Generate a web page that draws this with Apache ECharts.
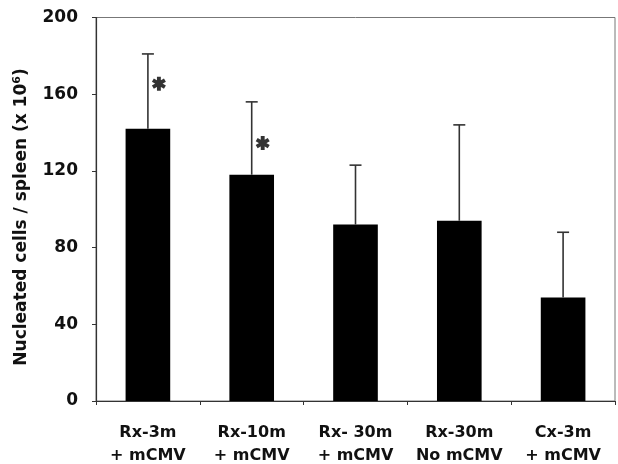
<!DOCTYPE html>
<html><head><meta charset="utf-8">
<script src="https://cdn.jsdelivr.net/npm/echarts@6/dist/echarts.min.js"></script>
<style>html,body{margin:0;padding:0;background:#fff}#c{width:618px;height:464px}</style>
</head><body><div id="c"></div>
<script>
const categories = ['Rx-3m\n+ mCMV', 'Rx-10m\n+ mCMV', 'Rx- 30m\n+ mCMV', 'Rx-30m\nNo mCMV', 'Cx-3m\n+ mCMV'];
const means = [142, 118, 92, 94, 54];
const errorTops = [181, 156, 123, 144, 88];
const starValues = [165.5, 134.5, null, null, null];
const yTicks = [0, 40, 80, 120, 160, 200];
const yTitle = 'Nucleated cells / spleen (x 10{sup|6})';

const FONT = '"DejaVu Sans", sans-serif';
const STAR = 'path://M36 0L64 0L64 100L36 100Z' +
  'M13.7 87.12L-0.3 62.88L86.3 12.88L100.3 37.12Z' +
  'M100.3 62.88L86.3 87.12L-0.3 37.12L13.7 12.88Z';
const chart = echarts.init(document.getElementById('c'));
chart.setOption({
  animation: false,
  backgroundColor: '#fff',
  grid: { left: 96, right: 3, top: 17.5, bottom: 63, containLabel: false, outerBoundsMode: 'none',
    show: true, borderColor: '#777', borderWidth: 1 },
  graphic: [{
    type: 'text', x: 22, y: 217, rotation: Math.PI / 2,
    style: { text: yTitle, align: 'center', verticalAlign: 'middle', fill: '#111',
      fontFamily: FONT, fontWeight: 'bold', fontSize: 17,
      rich: { sup: { fontSize: 11, fontWeight: 'bold', fontFamily: FONT, fill: '#111', padding: [0, 0, 9, 0] } } }
  }],
  xAxis: {
    type: 'category', data: categories,
    axisLine: { lineStyle: { color: '#333', width: 1.2 } },
    axisTick: { show: true, length: 4, lineStyle: { color: '#333' } },
    axisLabel: { interval: 0, color: '#111', fontFamily: FONT, fontWeight: 'bold', fontSize: 16, lineHeight: 23, margin: 20 }
  },
  yAxis: {
    type: 'value', min: yTicks[0], max: yTicks[yTicks.length - 1], interval: 40,
    axisLine: { show: true, lineStyle: { color: '#333', width: 1.2 } },
    axisTick: { show: true, length: 4, lineStyle: { color: '#333' } },
    splitLine: { show: false },
    axisLabel: { color: '#111', fontFamily: FONT, fontWeight: 'bold', fontSize: 17, margin: 18 }
  },
  series: [
    { type: 'bar', data: means, barWidth: '43%', itemStyle: { color: '#000' } },
    { type: 'custom', data: categories.map((c, i) => [i, means[i], errorTops[i]]),
      renderItem: function (params, api) {
        const base = api.coord([api.value(0), api.value(1)]);
        const top = api.coord([api.value(0), api.value(2)]);
        const hw = 6;
        const st = { stroke: '#333', lineWidth: 1.6 };
        return { type: 'group', children: [
          { type: 'line', shape: { x1: base[0], y1: base[1], x2: top[0], y2: top[1] }, style: st },
          { type: 'line', shape: { x1: top[0] - hw, y1: top[1], x2: top[0] + hw, y2: top[1] }, style: st }
        ]};
      }, z: 3 },
    { type: 'scatter', data: starValues.map((v, i) => v == null ? null : [i, v]),
      symbol: STAR, symbolSize: [14, 14], symbolOffset: [11, 0],
      itemStyle: { color: '#000' } }
  ]
});
</script></body></html>
